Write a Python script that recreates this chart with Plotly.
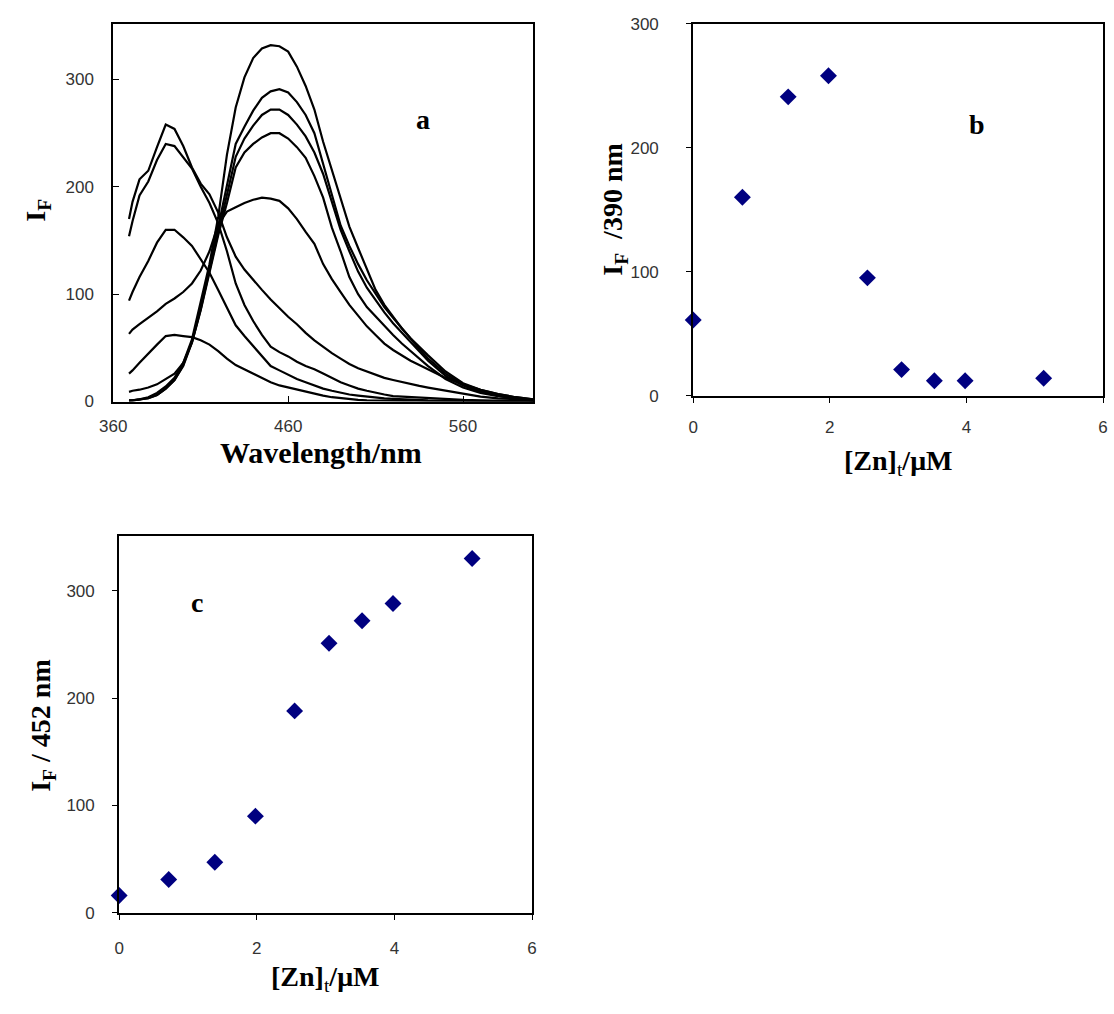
import plotly.graph_objects as go

# ---------------- data ----------------
wavelength_nm = [369, 371, 375, 380, 385, 390, 395, 400, 405, 410, 415, 420, 425, 430, 435,
                 440, 445, 450, 455, 460, 465, 470, 475, 480, 485, 490, 495, 500, 505, 510,
                 515, 520, 525, 530, 535, 540, 550, 560, 570, 580, 590, 600]

spec_zn_0_00 = [26, 29, 36, 45, 53, 61, 62, 61, 60, 57, 53, 47, 40, 34, 30, 26, 22, 18, 15, 13,
                11, 9, 7, 5.5, 4, 3, 2, 1.5, 1, 1, 0.5, 0.5, 0.5, 0.3, 0.3, 0.3, 0.2, 0.2, 0.1, 0.1, 0, 0]
spec_zn_0_72 = [94, 102, 116, 131, 148, 160, 160, 153, 145, 133, 120, 104, 87, 71, 61, 52, 42, 33, 29, 25,
                21, 18, 15, 12, 10, 8, 6.5, 5.5, 4.5, 4, 3, 2.5, 2, 1.5, 1.2, 1, 0.8, 0.5, 0.4, 0.3, 0.2, 0]
spec_zn_1_39 = [154, 168, 192, 205, 225, 240, 238, 228, 217, 200, 185, 166, 140, 110, 90, 75, 62, 51, 46, 42,
                37, 33, 30, 26, 22, 18, 15, 12, 10, 8, 6.5, 5, 4.5, 4, 3.5, 3, 2, 1.5, 1, 0.7, 0.5, 0.3]
spec_zn_1_98 = [170, 186, 207, 215, 237, 258, 254, 238, 218, 203, 193, 176, 153, 135, 123, 114, 104, 95, 87, 79,
                72, 64, 57, 51, 45, 40, 35, 31, 28, 25, 22, 20, 18, 16, 14.5, 13, 10, 7, 4.5, 3, 2, 1]
spec_zn_2_55 = [63, 67, 72, 78, 84, 91, 96, 102, 110, 122, 140, 165, 177, 181, 185, 188, 190, 189, 187, 180,
                170, 158, 147, 128, 114, 102, 90, 80, 70, 62, 54, 48, 43, 38, 34, 30, 22, 16, 11, 7, 4, 2]
spec_zn_3_05 = [9, 10, 11, 13, 16, 21, 26, 36, 55, 85, 120, 155, 185, 218, 232, 240, 246, 250, 250, 245,
                237, 227, 210, 190, 162, 140, 116, 100, 88, 79, 71, 62, 54, 47, 40, 33, 21, 13, 8, 5, 3, 1]
spec_zn_3_53 = [1, 1, 2, 3, 6, 12, 20, 33, 55, 86, 122, 158, 192, 228, 245, 257, 267, 272, 272, 267,
                258, 247, 232, 212, 186, 160, 140, 121, 106, 94, 83, 73, 64, 55, 47, 38, 24, 15, 9, 5.5, 3, 1]
spec_zn_3_98 = [0.5, 1, 2, 3, 6, 12, 20, 34, 56, 88, 124, 162, 202, 240, 256, 271, 283, 289, 291, 288,
                279, 267, 250, 222, 192, 164, 145, 128, 113, 100, 88, 78, 68, 58, 49, 40, 26, 16, 10, 6, 3, 1.5]
spec_zn_5_13 = [1, 1, 2, 4, 8, 14, 22, 36, 58, 92, 128, 172, 230, 274, 302, 320, 329, 332, 331, 326,
                312, 294, 272, 242, 216, 190, 163, 143, 124, 104, 90, 79, 68, 59, 51, 43, 28, 17, 11, 7, 4, 2]

spectra = [spec_zn_0_00, spec_zn_0_72, spec_zn_1_39, spec_zn_1_98, spec_zn_2_55,
           spec_zn_3_05, spec_zn_3_53, spec_zn_3_98, spec_zn_5_13]

zn_total_uM = [0, 0.72, 1.39, 1.98, 2.55, 3.05, 3.53, 3.98, 5.13]
if_390nm = [61, 160, 241, 258, 95, 21, 12, 12, 14]
if_452nm = [16, 31, 47, 90, 188, 251, 272, 288, 330]

ticks_a_x = [360, 460, 560]
ticks_y = [0, 100, 200, 300]
ticks_zn = [0, 2, 4, 6]

# ---------------- figure ----------------
W, H = 1114, 1014
fig = go.Figure()

for s in spectra:
    fig.add_trace(go.Scatter(x=wavelength_nm, y=s, mode="lines",
                             line=dict(color="black", width=2.2),
                             xaxis="x", yaxis="y", showlegend=False, hoverinfo="skip"))

marker = dict(symbol="diamond", size=13, color="#000080")
fig.add_trace(go.Scatter(x=zn_total_uM, y=if_390nm, mode="markers", marker=marker,
                         xaxis="x2", yaxis="y2", showlegend=False, cliponaxis=False))
fig.add_trace(go.Scatter(x=zn_total_uM, y=if_452nm, mode="markers", marker=marker,
                         xaxis="x3", yaxis="y3", showlegend=False, cliponaxis=False))

tickfont = dict(family="Liberation Sans", size=17, color="#333333")
base = dict(showgrid=False, zeroline=False, showline=True, mirror=True,
            linecolor="black", linewidth=2, tickfont=tickfont, tickcolor="black",
            ticklen=6, tickwidth=1)


def px_x(p):
    return p / W


def px_y(p):
    return 1 - p / H


fig.update_layout(
    width=W, height=H, margin=dict(l=0, r=0, t=0, b=0),
    paper_bgcolor="white", plot_bgcolor="white",
    xaxis=dict(base, domain=[px_x(101), px_x(528)], range=[360, 600], tickvals=ticks_a_x,
               ticks="inside", anchor="y", ticklabelstandoff=8),
    yaxis=dict(base, domain=[px_y(400), px_y(15)], range=[0, 352], tickvals=ticks_y,
               ticks="inside", anchor="x", ticklabelstandoff=14),
    xaxis2=dict(base, domain=[px_x(691), px_x(1108)], range=[0, 6], tickvals=ticks_zn,
                ticks="outside", ticklen=5, anchor="y2", ticklabelstandoff=10),
    yaxis2=dict(base, domain=[px_y(394), px_y(15)], range=[0, 300], tickvals=ticks_y,
                ticks="outside", ticklen=5, anchor="x2", ticklabelstandoff=24),
    xaxis3=dict(base, domain=[px_x(107), px_x(527)], range=[0, 6], tickvals=ticks_zn,
                ticks="outside", ticklen=5, anchor="y3", ticklabelstandoff=14),
    yaxis3=dict(base, domain=[px_y(921), px_y(537)], range=[0, 351], tickvals=ticks_y,
                ticks="outside", ticklen=5, anchor="x3", ticklabelstandoff=14),
)

tfont = dict(family="Liberation Serif", size=28, color="black")


def ann(text, x, y, angle=0, size=28):
    fig.add_annotation(text=text, x=px_x(x), y=px_y(y), xref="paper", yref="paper",
                       showarrow=False, textangle=angle,
                       font=dict(tfont, size=size), xanchor="center", yanchor="middle")


ann("<b>Wavelength/nm</b>", 312, 452, size=30)
ann("<b>I<sub>F</sub></b>", 24, 205, -90)
ann("<b>I<sub>F</sub>  /390 nm</b>", 611, 204, -90)
ann("<b>[Zn]</b><sub>t</sub><b>/μM</b>", 899, 462)
ann("<b>I<sub>F</sub> / 452 nm</b>", 29, 730, -90)
ann("<b>[Zn]</b><sub>t</sub><b>/μM</b>", 316, 988)
ann("<b>a</b>", 416, 113)
ann("<b>b</b>", 980, 118)
ann("<b>c</b>", 186, 605)

fig.write_html("out.html")
